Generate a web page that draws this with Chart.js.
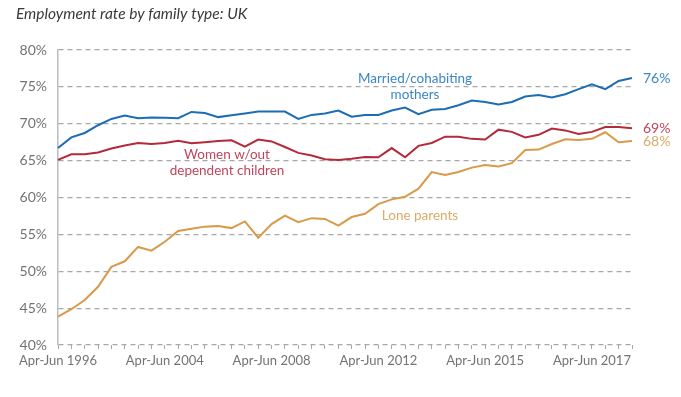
<!DOCTYPE html>
<html>
<head>
<meta charset="utf-8">
<script src="https://cdn.jsdelivr.net/npm/chart.js@4"></script>
<style>
  html, body { margin: 0; padding: 0; background: #fff; }
  #wrap { width: 681px; height: 397px; position: relative; }
</style>
</head>
<body>
<div id="wrap"><canvas id="chart" width="681" height="397"></canvas></div>
<script>
// tick labels shown on the x axis, one every 8 periods
const tickLabels = ['Apr-Jun 1996', 'Apr-Jun 2004', 'Apr-Jun 2008', 'Apr-Jun 2012', 'Apr-Jun 2015', 'Apr-Jun 2017'];
const tickEvery = 8;
const periodCount = 44;

const yTicks = [40, 45, 50, 55, 60, 65, 70, 75, 80];

// employment rate, %
const married = [66.7, 68.15, 68.75, 69.8, 70.65, 71.1, 70.75, 70.85, 70.8, 70.75,
  71.6, 71.45, 70.9, 71.15, 71.4, 71.65, 71.65, 71.65, 70.65, 71.2,
  71.4, 71.8, 70.95, 71.2, 71.2, 71.8, 72.2, 71.3, 71.9, 72.0,
  72.5, 73.15, 72.95, 72.6, 72.95, 73.7, 73.9, 73.55, 74.0, 74.7,
  75.35, 74.7, 75.8, 76.2];
const women = [65.1, 65.85, 65.85, 66.1, 66.65, 67.05, 67.4, 67.25, 67.4, 67.7,
  67.35, 67.5, 67.65, 67.75, 66.9, 67.85, 67.6, 66.85, 66.05, 65.7,
  65.2, 65.1, 65.25, 65.5, 65.45, 66.7, 65.45, 67.0, 67.4, 68.25,
  68.25, 67.95, 67.85, 69.2, 68.9, 68.15, 68.5, 69.35, 69.1, 68.6,
  68.9, 69.55, 69.55, 69.4];
const lone = [43.85, 44.85, 46.1, 47.9, 50.6, 51.35, 53.3, 52.8, 54.0, 55.45,
  55.75, 56.05, 56.15, 55.85, 56.75, 54.55, 56.4, 57.55, 56.65, 57.2,
  57.1, 56.2, 57.35, 57.8, 59.1, 59.75, 60.1, 61.2, 63.45, 63.05,
  63.45, 64.05, 64.4, 64.2, 64.65, 66.45, 66.5, 67.25, 67.9, 67.8,
  67.95, 68.85, 67.5, 67.65];

const endLabels = ['76%', '69%', '68%'];

const categories = Array.from({ length: periodCount }, (_, i) =>
  i % tickEvery === 0 ? (tickLabels[i / tickEvery] || '') : '');

const FONT = 'Lato, "Open Sans", sans-serif';
const GREY = '#737373';
const GRID = '#a8a8a8';

const series = [
  { data: married, line: '#1c6db5', text: '#3a86c8' },
  { data: women, line: '#b52a3a', text: '#c0465a' },
  { data: lone, line: '#d99a48', text: '#dcab68' }
];

// title, in-chart labels and end values
const annotations = {
  id: 'annotations',
  afterDraw(chart) {
    const ctx = chart.ctx;
    const y = chart.scales.y;
    const area = chart.chartArea;
    ctx.save();
    ctx.textBaseline = 'middle';

    ctx.fillStyle = '#3a3a3a';
    ctx.font = 'italic 15.5px ' + FONT;
    ctx.textAlign = 'left';
    ctx.fillText('Employment rate by family type: UK', 16, 14);

    ctx.font = '13.5px ' + FONT;
    ctx.textAlign = 'center';
    ctx.fillStyle = series[0].text;
    ctx.fillText('Married/cohabiting', 415, 79);
    ctx.fillText('mothers', 415, 95);
    ctx.fillStyle = series[1].text;
    ctx.fillText('Women w/out', 227, 155);
    ctx.fillText('dependent children', 227, 171);
    ctx.fillStyle = series[2].text;
    ctx.fillText('Lone parents', 420, 216);

    ctx.font = '14px ' + FONT;
    ctx.textAlign = 'left';
    series.forEach((s, k) => {
      ctx.fillStyle = s.text;
      ctx.fillText(endLabels[k], area.right + 11, y.getPixelForValue(s.data[s.data.length - 1]));
    });
    ctx.restore();
  }
};

new Chart(document.getElementById('chart'), {
  type: 'line',
  data: {
    labels: categories,
    datasets: series.map(s => ({
      data: s.data,
      borderColor: s.line,
      borderWidth: 2,
      pointRadius: 0,
      tension: 0,
      fill: false
    }))
  },
  options: {
    responsive: false,
    animation: false,
    events: [],
    layout: { padding: { left: 0, right: 49, top: 50, bottom: 0 } },
    plugins: {
      legend: { display: false },
      tooltip: { enabled: false }
    },
    scales: {
      x: {
        type: 'category',
        offset: false,
        grid: { display: true, drawOnChartArea: false, drawTicks: true, tickLength: 4, color: GRID, lineWidth: 1 },
        border: { display: false },
        ticks: {
          autoSkip: false,
          maxRotation: 0,
          minRotation: 0,
          padding: 4,
          color: GREY,
          font: { family: FONT, size: 13 }
        },
        afterFit(scale) { scale.height = 52; }
      },
      y: {
        min: 40,
        max: 80,
        afterBuildTicks(scale) { scale.ticks = yTicks.map(v => ({ value: v })); },
        grid: { color: GRID, lineWidth: 1.2, drawTicks: false },
        border: { display: true, color: '#bdbdbd', width: 1.5, dash: [5, 4] },
        ticks: {
          padding: 11,
          color: GREY,
          font: { family: FONT, size: 14 },
          callback: v => v + '%'
        },
        afterFit(scale) { scale.width = 58; }
      }
    }
  },
  plugins: [annotations]
});
</script>
</body>
</html>
